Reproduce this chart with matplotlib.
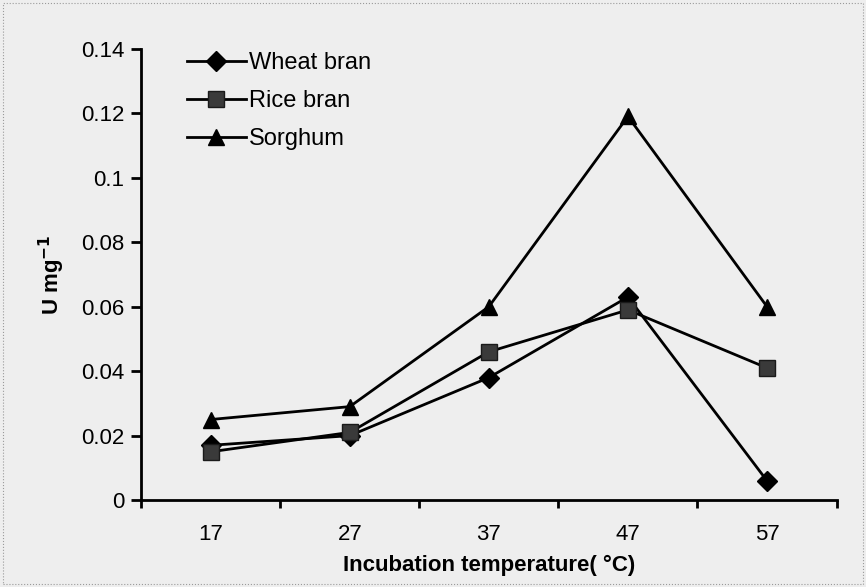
import matplotlib
matplotlib.use("Agg")
import matplotlib.pyplot as plt
import numpy as np

# dados
temperaturas = ["17", "27", "37", "47", "57"]
wheat_bran = [0.017, 0.020, 0.038, 0.063, 0.006]
rice_bran = [0.015, 0.021, 0.046, 0.059, 0.041]
sorghum = [0.025, 0.029, 0.060, 0.119, 0.060]
y_ticks = [0, 0.02, 0.04, 0.06, 0.08, 0.10, 0.12, 0.14]
y_tick_labels = ["0", "0.02", "0.04", "0.06", "0.08", "0.1", "0.12", "0.14"]

plt.rcParams['font.family'] = ['Liberation Sans', 'DejaVu Sans']

fig = plt.figure(figsize=(8.66, 5.87), dpi=100, facecolor="#eeeeee")
ax = fig.add_axes([0.163, 0.148, 0.803, 0.769])
ax.set_facecolor("#eeeeee")

x = np.arange(len(temperaturas))
ax.plot(x, wheat_bran, color="black", lw=2, marker="D", ms=10,
        mfc="black", mec="black", label="Wheat bran")
ax.plot(x, rice_bran, color="black", lw=2, marker="s", ms=11,
        mfc="#3a3a3a", mec="#1a1a1a", label="Rice bran")
ax.plot(x, sorghum, color="black", lw=2, marker="^", ms=12,
        mfc="black", mec="black", label="Sorghum")

# eixo x categorico com marcas entre as categorias (estilo Excel)
ax.set_xlim(-0.5, len(temperaturas) - 0.5)
ax.set_xticks(x)
ax.set_xticklabels(temperaturas, fontsize=16)
ax.set_xticks(np.arange(len(temperaturas) + 1) - 0.5, minor=True)
ax.tick_params(axis="x", which="major", length=0, pad=17)
ax.tick_params(axis="x", which="minor", length=6, width=2, direction="out")

ax.set_ylim(0, 0.14)
ax.set_yticks(y_ticks)
ax.set_yticklabels(y_tick_labels, fontsize=16)
ax.tick_params(axis="y", length=7, width=2, direction="out", pad=5)

for s in ["top", "right"]:
    ax.spines[s].set_visible(False)
for s in ["left", "bottom"]:
    ax.spines[s].set_linewidth(2)

ax.set_xlabel("Incubation temperature( °C)", fontsize=16, fontweight="bold", labelpad=7)
ax.set_ylabel("U mg$^{\\mathbf{-1}}$", fontsize=16, fontweight="bold", labelpad=10)

ax.legend(loc="upper left", bbox_to_anchor=(0.035, 1.04), frameon=False,
          fontsize=17, handlelength=2.5, handletextpad=0.15, labelspacing=0.68)

# moldura fina do scan
fig.patches.append(plt.Rectangle((0.003, 0.005), 0.994, 0.99, transform=fig.transFigure,
                                 fill=False, edgecolor="#9a9a9a", lw=0.8, ls=":"))

plt.savefig("out.png", dpi=100, facecolor=fig.get_facecolor())
